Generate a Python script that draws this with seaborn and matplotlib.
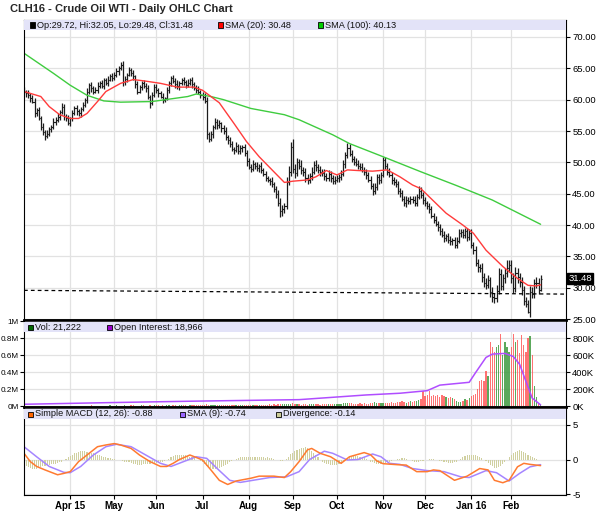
import numpy as np
import pandas as pd
import matplotlib
matplotlib.use("Agg")
import matplotlib.pyplot as plt
import matplotlib.transforms as mtrans
from matplotlib.patches import Rectangle
import seaborn as sns

# trading days of CLH16 shown on the chart (NYMEX holidays taken out)
holidays = ["2015-04-03", "2015-05-25", "2015-07-03", "2015-09-07", "2015-11-26",
            "2015-12-25", "2016-01-01", "2016-01-18", "2016-02-15"]
days = pd.bdate_range("2015-03-02", "2016-02-22", freq="C", holidays=holidays)

first_open = 61.6
closes = [
    61.3, 61.0, 60.7, 60.3, 59.7, 57.8, 58.4, 57.0, 55.7, 54.8, 54.2, 54.6, 55.3, 55.7, 56.5, 56.8, 57.3, 58.0, 58.9, 57.4, 57.0, 56.3,  # mar
    57.0, 57.8, 58.6, 58.2, 57.8, 58.5, 59.2, 60.0, 61.2, 62.3, 61.8, 61.3, 61.6, 62.2, 62.6, 62.2, 63.1, 62.7, 63.2, 63.7, 63.4,  # apr
    64.0, 64.5, 65.0, 65.5, 62.8, 63.3, 64.0, 64.7, 64.2, 63.7, 62.5, 61.3, 62.0, 62.6, 62.2, 61.8, 60.5, 59.4, 60.8, 62.0,  # may
    61.5, 61.0, 60.5, 60.0, 60.2, 61.5, 62.6, 63.4, 63.0, 62.5, 62.1, 62.6, 63.1, 62.8, 62.3, 62.7, 63.1, 62.5, 61.9, 61.6, 61.3, 60.8,  # jun
    60.5, 59.8, 54.5, 53.8, 54.5, 55.7, 56.5, 55.9, 56.2, 55.5, 55.0, 54.0, 53.6, 53.0, 52.2, 52.0, 52.6, 51.8, 52.3, 52.5, 51.5, 50.2,  # jul
    49.3, 49.0, 49.8, 49.5, 49.1, 49.4, 48.8, 48.2, 47.5, 47.2, 47.0, 46.5, 45.8, 45.0, 43.5, 42.2, 42.5, 43.0, 46.8, 48.5, 52.5,  # aug
    49.0, 48.3, 50.0, 49.5, 48.8, 48.4, 47.5, 47.2, 47.8, 48.5, 49.6, 49.2, 48.8, 48.5, 48.3, 47.8, 47.5, 48.2, 47.5, 47.0, 47.2,  # sep
    47.5, 47.7, 48.2, 49.7, 51.2, 52.3, 51.4, 50.6, 50.1, 49.8, 49.5, 49.3, 48.8, 48.5, 48.0, 47.2, 46.3, 45.4, 46.0, 47.6, 47.2, 48.0,  # oct
    50.3, 49.5, 48.5, 48.0, 47.2, 46.9, 46.5, 45.5, 45.1, 44.2, 43.5, 44.0, 43.8, 44.2, 44.0, 43.6, 44.5, 45.5, 44.8, 44.0,  # nov
    43.5, 43.0, 42.5, 41.5, 40.8, 40.2, 39.7, 39.0, 38.5, 37.9, 38.2, 37.6, 37.4, 37.6, 36.8, 37.5, 38.7, 38.9, 38.4, 39.0, 38.1, 38.7,  # dec
    36.8, 36.0, 34.0, 33.3, 33.2, 31.8, 30.8, 30.5, 31.2, 29.4, 28.5, 28.4, 29.5, 32.2, 30.3, 31.5, 32.3, 33.2, 33.6,  # jan
    31.6, 29.9, 32.3, 31.7, 30.9, 29.7, 27.9, 27.5, 26.2, 29.4, 29.0, 30.7, 30.8, 29.6, 31.48,  # feb
]
# how far the high / low reach past the open-close body
up_wick = [
    0.4, 0.3, 0.5, 0.3, 0.4, 0.6, 0.3, 0.5, 0.4, 0.6, 0.3, 0.5, 0.4, 0.3, 0.5, 0.4, 0.6, 0.3, 0.5, 0.4, 0.3, 0.5,
    0.3, 0.5, 0.4, 0.6, 0.3, 0.4, 0.5, 0.3, 0.6, 0.4, 0.5, 0.3, 0.4, 0.6, 0.3, 0.5, 0.4, 0.3, 0.5, 0.4, 0.6,
    0.4, 0.5, 0.3, 0.5, 0.6, 0.4, 0.3, 0.5, 0.4, 0.6, 0.3, 0.5, 0.4, 0.3, 0.6, 0.4, 0.5, 0.3, 0.4, 0.5,
    0.5, 0.3, 0.4, 0.6, 0.3, 0.5, 0.4, 0.3, 0.5, 0.4, 0.6, 0.3, 0.4, 0.5, 0.3, 0.6, 0.4, 0.5, 0.3, 0.4, 0.5, 0.3,
    0.4, 0.5, 0.6, 0.4, 0.5, 0.3, 0.6, 0.4, 0.5, 0.3, 0.4, 0.6, 0.3, 0.5, 0.4, 0.3, 0.6, 0.4, 0.5, 0.3, 0.4, 0.5,
    0.5, 0.4, 0.6, 0.3, 0.5, 0.4, 0.6, 0.3, 0.5, 0.4, 0.3, 0.6, 0.4, 0.5, 0.6, 0.8, 0.7, 0.6, 0.9, 1.0, 0.7,
    1.2, 0.8, 0.7, 0.6, 0.8, 0.5, 0.7, 0.6, 0.5, 0.8, 0.6, 0.7, 0.5, 0.6, 0.4, 0.7, 0.5, 0.6, 0.4, 0.5, 0.6,
    0.5, 0.4, 0.6, 0.7, 0.5, 0.8, 0.6, 0.5, 0.4, 0.6, 0.5, 0.4, 0.6, 0.5, 0.4, 0.5, 0.6, 0.4, 0.7, 0.5, 0.6, 0.5,
    0.6, 0.5, 0.4, 0.6, 0.5, 0.4, 0.5, 0.6, 0.4, 0.5, 0.4, 0.6, 0.5, 0.4, 0.5, 0.6, 0.4, 0.7, 0.5, 0.4,
    0.5, 0.4, 0.6, 0.5, 0.4, 0.6, 0.5, 0.4, 0.5, 0.6, 0.4, 0.5, 0.6, 0.4, 0.5, 0.6, 0.7, 0.5, 0.4, 0.6, 0.5, 0.7,
    0.6, 0.5, 0.7, 0.6, 0.5, 0.8, 0.6, 0.7, 0.9, 0.6, 0.8, 0.7, 0.9, 1.0, 0.8, 0.7, 0.9, 1.3, 0.8,
    0.9, 0.8, 1.0, 0.9, 0.7, 0.8, 0.6, 0.7, 0.5, 0.9, 0.8, 0.7, 0.9, 0.8, 0.57,
]
down_wick = [
    0.3, 0.5, 0.4, 0.6, 0.3, 0.5, 0.4, 0.3, 0.6, 0.4, 0.7, 0.3, 0.4, 0.5, 0.3, 0.6, 0.4, 0.5, 0.3, 0.6, 0.4, 0.3,
    0.5, 0.4, 0.3, 0.6, 0.4, 0.5, 0.3, 0.4, 0.5, 0.3, 0.6, 0.4, 0.3, 0.5, 0.4, 0.3, 0.5, 0.4, 0.6, 0.3, 0.4,
    0.3, 0.4, 0.5, 0.3, 0.6, 0.4, 0.5, 0.3, 0.4, 0.5, 0.6, 0.4, 0.3, 0.5, 0.4, 0.6, 0.4, 0.7, 0.3, 0.4,
    0.4, 0.5, 0.3, 0.6, 0.4, 0.3, 0.5, 0.4, 0.3, 0.6, 0.4, 0.5, 0.3, 0.4, 0.5, 0.3, 0.4, 0.6, 0.3, 0.5, 0.4, 0.6,
    0.5, 0.4, 0.7, 0.5, 0.4, 0.6, 0.3, 0.5, 0.4, 0.6, 0.5, 0.4, 0.6, 0.5, 0.4, 0.6, 0.3, 0.5, 0.4, 0.6, 0.5, 0.7,
    0.4, 0.6, 0.3, 0.5, 0.4, 0.6, 0.5, 0.4, 0.5, 0.3, 0.6, 0.4, 0.5, 0.6, 0.5, 0.9, 0.7, 0.6, 0.5, 0.4, 0.6,
    0.7, 0.8, 0.5, 0.6, 0.7, 0.5, 0.6, 0.7, 0.5, 0.6, 0.4, 0.6, 0.5, 0.7, 0.4, 0.6, 0.5, 0.4, 0.6, 0.5, 0.4,
    0.4, 0.6, 0.5, 0.4, 0.6, 0.5, 0.4, 0.6, 0.5, 0.4, 0.6, 0.5, 0.4, 0.5, 0.6, 0.4, 0.5, 0.6, 0.5, 0.4, 0.6, 0.5,
    0.4, 0.6, 0.5, 0.4, 0.6, 0.5, 0.4, 0.5, 0.6, 0.4, 0.5, 0.6, 0.4, 0.5, 0.4, 0.6, 0.5, 0.4, 0.5, 0.6,
    0.4, 0.5, 0.6, 0.4, 0.5, 0.4, 0.6, 0.5, 0.4, 0.6, 0.5, 0.4, 0.5, 0.6, 0.4, 0.5, 0.4, 0.6, 0.5, 0.4, 0.6, 0.5,
    0.5, 0.6, 0.5, 0.7, 0.6, 0.8, 0.6, 0.7, 0.6, 0.9, 0.7, 0.8, 0.6, 0.5, 0.7, 0.6, 0.8, 0.6, 0.7,
    0.8, 0.7, 0.6, 0.9, 0.7, 0.8, 0.7, 0.6, 0.2, 0.8, 0.7, 0.6, 0.7, 0.6, 0.12,
]
# volume in thousands of contracts
volume_k = [
    3, 2, 4, 5, 3, 4, 2, 6, 5, 3, 8, 4, 3, 5, 6, 4, 7, 5, 3, 4, 6, 5,
    5, 6, 8, 4, 7, 10, 6, 5, 9, 7, 12, 8, 6, 10, 9, 7, 11, 8, 10, 12, 9,
    10, 12, 8, 11, 9, 13, 10, 8, 12, 14, 9, 11, 10, 13, 12, 9, 11, 14, 10, 12,
    12, 14, 10, 13, 11, 15, 12, 10, 16, 13, 11, 14, 12, 15, 13, 11, 16, 14, 12, 15, 13, 17,
    14, 18, 25, 16, 14, 13, 17, 15, 12, 16, 14, 18, 15, 13, 17, 16, 14, 19, 15, 17, 16, 20,
    18, 22, 20, 17, 19, 21, 18, 23, 20, 19, 24, 21, 25, 22, 27, 32, 28, 24, 30, 26, 28,
    35, 30, 26, 24, 22, 28, 25, 23, 27, 30, 24, 26, 28, 22, 25, 27, 24, 26, 29, 25, 27,
    28, 32, 30, 35, 40, 38, 45, 36, 33, 30, 34, 38, 32, 36, 30, 34, 40, 44, 48, 36, 42, 40,
    38, 45, 40, 36, 50, 42, 46, 55, 48, 60, 52, 45, 55, 60, 50, 65, 70, 80, 90, 180,
    120, 130, 180, 120, 140, 125, 130, 115, 140, 120, 110, 100, 112, 95, 90, 60, 55, 48, 60, 88, 75, 100,
    120, 130, 150, 210, 300, 310, 300, 420, 360, 750, 700, 640, 700, 720, 850, 600, 760, 700, 640,
    700, 850, 760, 780, 630, 840, 720, 640, 800, 820, 600, 240, 110, 45, 21.222,
]
divergence = [
    -0.9, -1.0, -1.1, -1.2, -1.3, -1.3, -1.3, -1.2, -1.1, -1.0, -0.9, -0.8, -0.8, -0.7, -0.7, -0.6, -0.5, -0.4, -0.3, -0.1, 0.1, 0.3,
    0.5, 0.7, 0.9, 1.0, 1.1, 1.2, 1.2, 1.2, 1.1, 1.0, 0.9, 0.9, 0.8, 0.7, 0.6, 0.5, 0.4, 0.3, 0.2, 0.2, 0.1,
    0.1, 0.0, -0.1, -0.1, -0.2, -0.3, -0.3, -0.4, -0.5, -0.6, -0.7, -0.8, -0.8, -0.8, -0.7, -0.7, -0.6, -0.6, -0.5, -0.5,
    -0.5, -0.4, -0.4, -0.3, -0.2, -0.1, 0.1, 0.3, 0.5, 0.6, 0.7, 0.7, 0.7, 0.6, 0.6, 0.5, 0.4, 0.3, 0.2, 0.0, -0.1, -0.2,
    -0.3, -0.6, -0.9, -1.1, -1.2, -1.3, -1.3, -1.3, -1.2, -1.1, -1.0, -0.8, -0.6, -0.4, -0.2, 0.0, 0.1, 0.2, 0.3, 0.3, 0.4, 0.4,
    0.4, 0.4, 0.3, 0.4, 0.3, 0.4, 0.3, 0.3, 0.2, 0.3, 0.2, 0.2, 0.1, 0.0, -0.1, -0.2, -0.2, -0.1, 0.1, 0.4, 0.8,
    1.0, 1.2, 1.4, 1.5, 1.6, 1.7, 1.8, 1.7, 1.5, 1.3, 1.0, 0.7, 0.3, 0.0, -0.3, -0.5, -0.6, -0.7, -0.8, -0.8, -0.8,
    -0.8, -0.7, -0.6, -0.4, -0.1, 0.1, 0.3, 0.4, 0.5, 0.5, 0.5, 0.4, 0.4, 0.3, 0.1, -0.1, -0.3, -0.4, -0.5, -0.6, -0.6, -0.6,
    -0.6, -0.5, -0.4, -0.3, -0.2, -0.1, 0.0, 0.1, 0.1, 0.2, 0.2, 0.1, 0.0, -0.1, -0.2, -0.3, -0.3, -0.3, -0.2, -0.2,
    -0.1, 0.0, 0.1, 0.1, 0.1, 0.0, -0.1, -0.2, -0.2, -0.3, -0.4, -0.5, -0.5, -0.5, -0.4, -0.3, -0.1, 0.1, 0.3, 0.5, 0.6, 0.7,
    0.7, 0.7, 0.6, 0.5, 0.4, 0.2, 0.0, -0.2, -0.5, -0.8, -1.0, -1.2, -1.2, -1.1, -0.9, -0.6, -0.3, 0.0, 0.3,
    0.6, 0.9, 1.1, 1.3, 1.4, 1.3, 1.1, 0.9, 0.7, 0.5, 0.3, 0.2, 0.1, 0.0, -0.14,
]

# indicator lines (trading-day index, value)
sma20_day = [0, 8, 12, 17, 22, 26, 30, 35, 39, 46, 52, 57, 65, 73, 81, 85, 93, 100, 106, 112, 119, 124,
             128, 135, 139, 144, 149, 154, 159, 166, 173, 179, 185, 189, 193, 201, 209, 214, 220, 228, 235, 240, 244, 246]
sma20_val = [61.3, 60.5, 58.9, 57.6, 57.0, 57.0, 57.8, 59.7, 61.3, 62.6, 63.2, 63.0, 62.6, 62.0, 62.0, 61.5, 59.5, 56.2,
             53.3, 50.9, 48.5, 46.8, 47.0, 47.2, 47.7, 48.7, 48.0, 48.8, 48.7, 48.6, 48.8, 47.7, 46.4, 45.8, 44.5, 41.9,
             40.0, 38.7, 36.0, 33.4, 31.5, 30.4, 30.3, 30.48]
sma100_day = [0, 14, 22, 30, 38, 46, 61, 78, 82, 89, 95, 108, 124, 131, 147, 155, 171, 189, 206, 223, 246]
sma100_val = [67.4, 64.2, 62.3, 60.7, 59.8, 59.6, 59.7, 60.5, 60.9, 60.5, 60.0, 58.6, 57.6, 56.8, 54.4, 53.0,
              50.9, 48.5, 46.3, 44.0, 40.13]
macd_day = [0, 3, 6, 10, 16, 19, 22, 26, 30, 35, 39, 43, 46, 51, 55, 60, 65, 68, 71, 74, 79, 82, 85, 89, 93, 97,
            101, 108, 112, 119, 124, 127, 131, 135, 137, 141, 146, 151, 155, 162, 165, 168, 171, 178, 182, 187,
            192, 195, 198, 205, 211, 217, 221, 224, 228, 231, 235, 238, 241, 246]
macd_val = [0.9, -0.3, -1.0, -1.5, -2.2, -2.0, -1.75, -0.3, 0.65, 1.85, 2.1, 2.3, 2.1, 1.6, 0.65, -0.3, -1.0, -1.0,
            -0.55, 0.0, 0.65, 0.3, -0.07, -1.5, -3.0, -3.6, -3.1, -2.7, -2.4, -2.4, -2.6, -1.75, -0.3, 1.4, 1.6,
            0.9, 0.4, -0.55, 0.4, 1.0, 0.7, -0.2, -0.6, -0.75, -0.8, -1.75, -1.75, -1.5, -1.6, -3.0, -2.4, -1.3,
            -1.5, -3.0, -3.35, -3.0, -1.05, -0.55, -0.7, -0.88]
signal_day = [0, 6, 12, 19, 22, 27, 33, 39, 44, 51, 58, 65, 70, 76, 82, 87, 92, 98, 103, 109, 117, 125, 131,
              136, 143, 147, 154, 159, 166, 170, 174, 179, 185, 192, 200, 208, 212, 220, 225, 231, 236, 241, 246]
signal_val = [1.85, 0.4, -1.0, -1.85, -1.9, -1.0, 0.65, 1.85, 2.2, 1.85, 0.65, -0.55, -1.0, -0.3, 0.4, 0.17,
              -1.3, -3.0, -3.3, -3.0, -2.6, -2.5, -1.75, 0.0, 1.2, 0.9, -0.07, 0.0, 0.8, 0.4, -0.55, -0.7, -1.3,
              -1.6, -1.75, -2.5, -2.6, -1.6, -1.9, -3.1, -2.0, -1.05, -0.74]
oi_day = [0, 40, 80, 131, 163, 179, 192, 198, 212, 215, 220, 223, 229, 233, 236, 239, 242, 246]
oi_val = [26, 45, 62, 80, 135, 155, 185, 250, 283, 395, 574, 613, 621, 585, 494, 295, 98, 18.966]
trend_day = [0, 258]
trend_val = [29.6, 29.0]

n = len(days)
for name, arr in [("closes", closes), ("up_wick", up_wick), ("down_wick", down_wick),
                  ("volume_k", volume_k), ("divergence", divergence)]:
    assert len(arr) == n, (name, len(arr), n)

day = np.arange(n)
close = np.array(closes)
opn = np.r_[first_open, close[:-1]]
high = np.maximum(opn, close) + np.array(up_wick)
low = np.minimum(opn, close) - np.array(down_wick)
vol_colors = np.where(close >= opn, "#3f9a3f", "#ff5a5a")

month_pos = [i for i in range(1, n) if days[i].month != days[i - 1].month]
month_lab = [days[i].strftime("%b %y") if (k == 0 or days[i].month == 1) else days[i].strftime("%b")
             for k, i in enumerate(month_pos)]

sns.set_theme(style="white")
plt.rcParams["font.family"] = ["Liberation Sans", "DejaVu Sans"]
plt.rcParams["axes.unicode_minus"] = False

W, H = 598, 515
L, R = 24, 566
XMAX = (R - L) / 2.1
fig = plt.figure(figsize=(W / 100, H / 100), dpi=100, facecolor="white")


def panel(top, bottom):
    return fig.add_axes([L / W, 1 - bottom / H, (R - L) / W, (bottom - top) / H])


ax_p = panel(20, 320)
ax_v = panel(320, 407)
ax_m = panel(407, 495)
heights = {ax_p: 300, ax_v: 87, ax_m: 88}

for ax in (ax_p, ax_v, ax_m):
    ax.set_xlim(0, XMAX)
    ax.set_xticks(month_pos)
    ax.grid(True, color="#e2e2e2", lw=0.9)
    ax.set_axisbelow(True)
    for sp in ax.spines.values():
        sp.set_color("black")
        sp.set_linewidth(0.8)
    ax.tick_params(axis="both", colors="black", labelsize=6.8, width=0.8, length=3, pad=1.5)
for ax in (ax_p, ax_v):
    ax.tick_params(axis="x", bottom=False, labelbottom=False)
ax_p.spines["bottom"].set_linewidth(1.8)
ax_v.spines["top"].set_linewidth(1.8)
ax_v.spines["bottom"].set_linewidth(1.8)
ax_m.spines["top"].set_linewidth(1.8)

# ---- price panel
ax_p.vlines(day, low, high, color="#1c1c1c", lw=0.9)
ax_p.hlines(opn, day - 0.6, day, color="#1c1c1c", lw=0.8)
ax_p.hlines(close, day, day + 0.6, color="#1c1c1c", lw=0.8)
sns.lineplot(x=sma100_day, y=sma100_val, ax=ax_p, color="#3fcc3f", linewidth=1.0)
sns.lineplot(x=sma20_day, y=sma20_val, ax=ax_p, color="#ff3b3b", linewidth=1.0)
ax_p.plot(trend_day, trend_val, color="black", lw=0.9, ls=(0, (3, 2.5)))
ax_p.set_ylim(24.87, 72.7)
ax_p.set_yticks(np.arange(25, 71, 5))
ax_p.set_yticklabels([f"{v:.2f}" for v in np.arange(25, 71, 5)])
ax_p.tick_params(axis="y", left=False, labelleft=False, right=True, labelright=True)
blend = mtrans.blended_transform_factory(ax_p.transAxes, ax_p.transData)
ax_p.text(1.004, close[-1], f"{close[-1]:.2f}", transform=blend, color="white", fontsize=6.8,
          va="center", ha="left", bbox=dict(boxstyle="square,pad=0.12", fc="black", ec="black"))

# ---- volume panel
ax_v.bar(day, volume_k, width=0.65, color=vol_colors, linewidth=0, alpha=0.85)
sns.lineplot(x=oi_day, y=oi_val, ax=ax_v, color="#b04dff", linewidth=1.1)
ax_v.set_ylim(-6, 1012)
ax_v.set_yticks([0, 200, 400, 600, 800, 1000])
ax_v.set_yticklabels(["0M", "0.2M", "0.4M", "0.6M", "0.8M", "1M"])
ax_v.tick_params(axis="y", left=True, labelleft=True, right=False, labelright=False,
                 labelsize=5.9, pad=1)
ax_vr = ax_v.twinx()
ax_vr.set_ylim(-6, 1012)
ax_vr.set_yticks([0, 200, 400, 600, 800])
ax_vr.set_yticklabels(["0K", "200K", "400K", "600K", "800K"])
ax_vr.grid(False)
ax_vr.tick_params(axis="y", right=True, labelright=True, colors="black", labelsize=6.8, width=0.8,
                  length=3, pad=1.5)
for sp in ax_vr.spines.values():
    sp.set_visible(False)

# ---- MACD panel
ax_m.bar(day, divergence, width=0.5, color="#d0d0a0", linewidth=0)
sns.lineplot(x=signal_day, y=signal_val, ax=ax_m, color="#a585ff", linewidth=1.1)
sns.lineplot(x=macd_day, y=macd_val, ax=ax_m, color="#ff7a30", linewidth=1.1)
ax_m.set_ylim(-5.12, 7.58)
ax_m.set_yticks([-5, 0, 5])
ax_m.set_yticklabels(["-5", "0", "5"])
ax_m.tick_params(axis="y", left=False, labelleft=False, right=True, labelright=True)
ax_m.tick_params(axis="x", bottom=True, labelbottom=True)
ax_m.set_xticklabels(month_lab, fontweight="bold", fontsize=7)

for ax in (ax_p, ax_v, ax_m):
    ax.set_xlabel("")
    ax.set_ylabel("")
ax_vr.set_ylabel("")


# ---- legend bands
def band(ax, top, bottom, items):
    h = heights[ax]
    ax.add_patch(Rectangle((0, 1 - bottom / h), 1, (bottom - top) / h, transform=ax.transAxes,
                           facecolor="#e3e3f8", edgecolor="none", zorder=4))
    c = (top + bottom) / 2
    for px, color, label in items:
        ax.add_patch(Rectangle(((px - L - 2.5) / (R - L), 1 - (c + 2.5) / h), 5 / (R - L), 5 / h,
                               transform=ax.transAxes, facecolor=color, edgecolor="black", lw=0.6,
                               zorder=5))
        ax.text((px - L + 5) / (R - L), 1 - c / h, label, transform=ax.transAxes, fontsize=6.6,
                va="center", ha="left", color="#111111", zorder=6)


band(ax_p, 0, 10, [(32, "black", "Op:29.72, Hi:32.05, Lo:29.48, Cl:31.48"),
                   (220, "#ff0000", "SMA (20): 30.48"),
                   (320, "#00cc00", "SMA (100): 40.13")])
band(ax_v, 2, 12, [(30, "#006600", "Vol: 21,222"),
                   (109, "#9900cc", "Open Interest: 18,966")])
band(ax_m, 2, 12, [(30, "#ff6600", "Simple MACD (12, 26): -0.88"),
                   (182, "#9966ff", "SMA (9): -0.74"),
                   (278, "#cccc99", "Divergence: -0.14")])

fig.text(10 / W, 1 - 9 / H, "CLH16 - Crude Oil WTI - Daily OHLC Chart", fontsize=8, fontweight="bold",
         va="center", ha="left")

fig.savefig("out.png", dpi=100, facecolor="white")
